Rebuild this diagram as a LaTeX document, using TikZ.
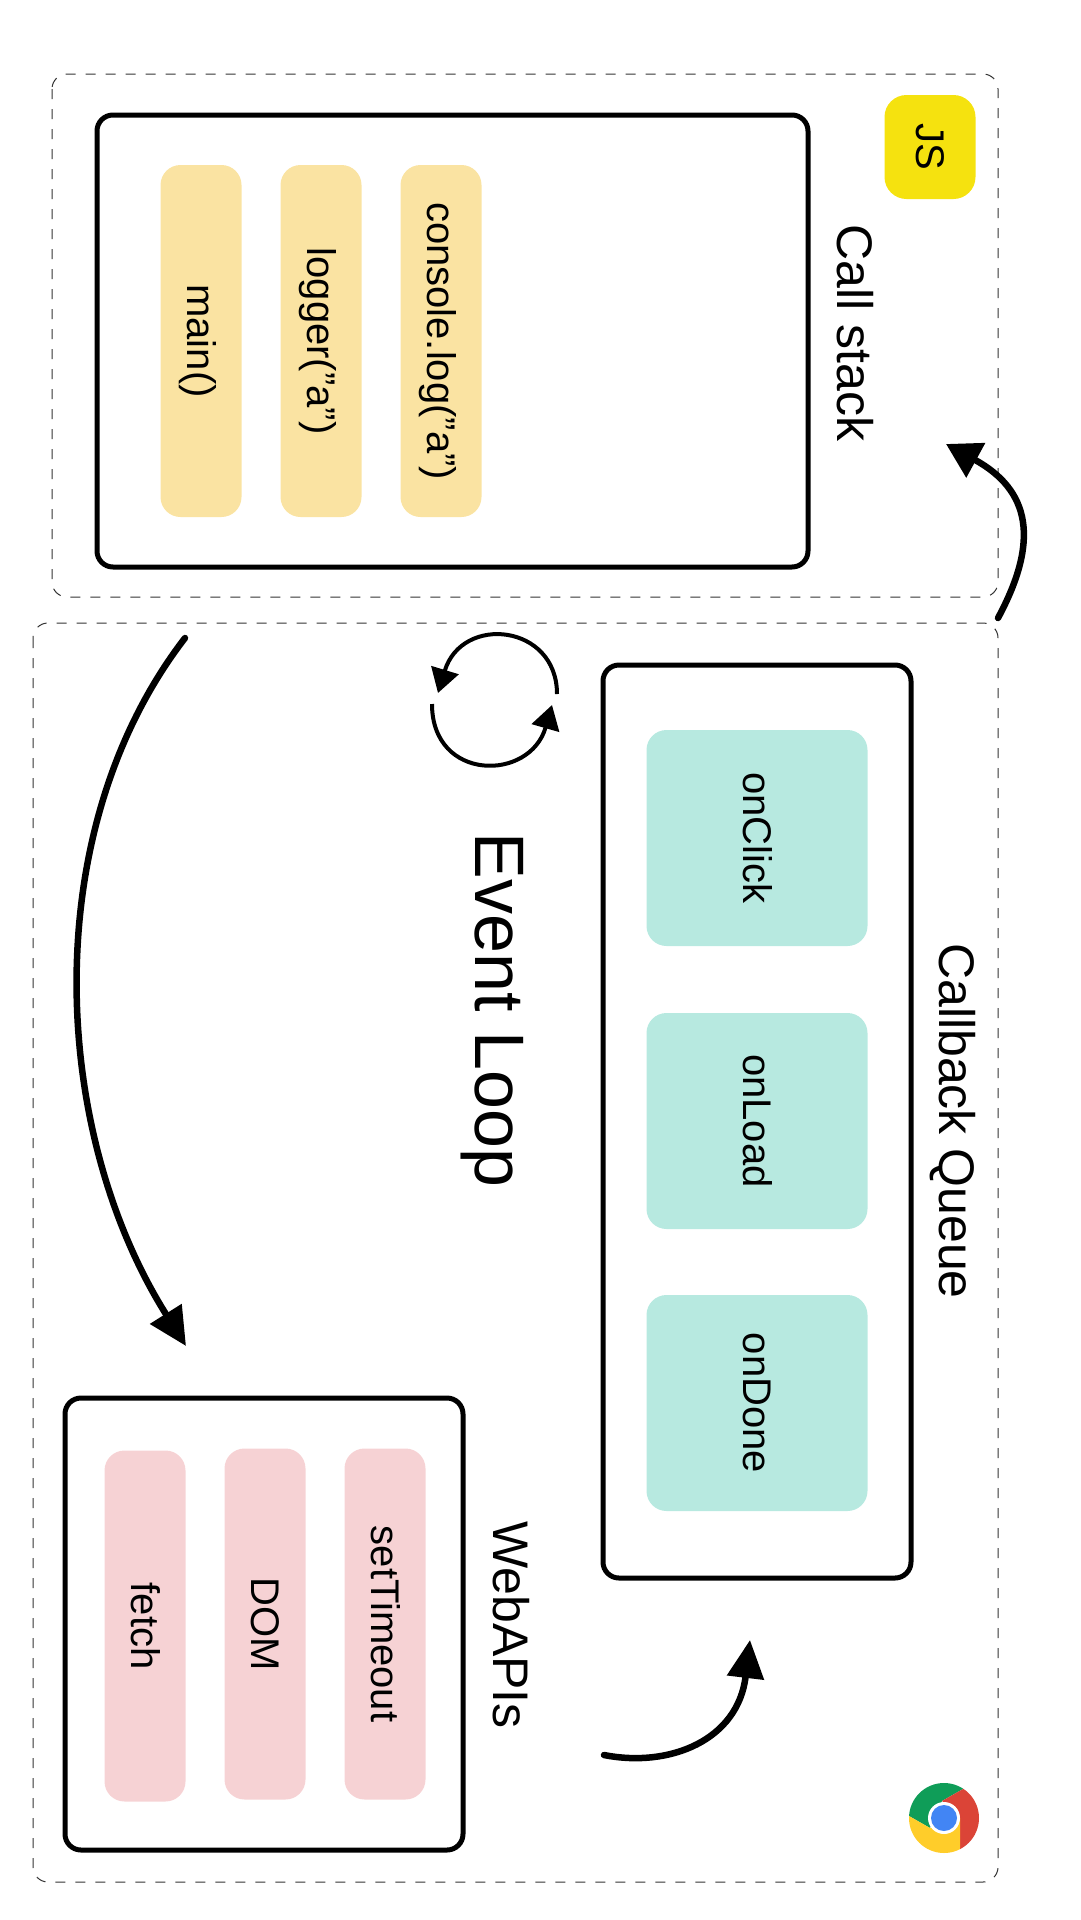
\documentclass[tikz,border=0pt]{standalone}
\usepackage{fontspec}
\setmainfont{Liberation Sans}
\usetikzlibrary{arrows.meta}
\definecolor{stackfill}{HTML}{FAE3A2}
\definecolor{queuefill}{HTML}{B7E9E0}
\definecolor{apifill}{HTML}{F6D2D4}
\definecolor{jsfill}{HTML}{F5E20F}
\definecolor{chromegreen}{HTML}{0F9D58}
\definecolor{chromered}{HTML}{DB4437}
\definecolor{chromeyellow}{HTML}{FFCD2A}
\definecolor{chromeblue}{HTML}{4285F4}
\tikzset{
  zone/.style={draw=black!80,line width=1pt,dash pattern=on 10pt off 10pt,rounded corners=15pt},
  frame/.style={draw=black,line width=5pt,rounded corners=16pt},
  item/.style={rotate=-90,inner sep=0pt,rounded corners=20pt,text height=34pt,text depth=6pt,font=\fontsize{40}{40}\selectfont},
  caption/.style={rotate=-90,inner sep=0pt,font=\fontsize{50}{50}\selectfont},
  flow/.style={line width=6.5pt,line cap=round}
}
\begin{document}
\begin{tikzpicture}[x=1pt,y=-1pt]
  \useasboundingbox (0,0) rectangle (1080,1920);
  % dashed zones
  \draw[zone] (52,74) rectangle (998,597);
  \draw[zone] (33,623) rectangle (998,1882);
  % call stack
  \draw[frame] (97,115) rectangle (808,567);
  \node[item,fill=stackfill,minimum width=352pt,minimum height=81pt] (main) at (201,341) {main()};
  \node[item,fill=stackfill,minimum width=352pt,minimum height=81pt] (logger) at (321,341) {logger(”a”)};
  \node[item,fill=stackfill,minimum width=352pt,minimum height=81pt] (console) at (441,341) {console.log(”a”)};
  \node[item,fill=jsfill,minimum width=104pt,minimum height=91pt,rounded corners=22pt] (js) at (930,147) {JS};
  \node[caption] (stacklabel) at (855,333) {Call stack};
  % callback queue
  \draw[frame] (603,665) rectangle (911,1578);
  \foreach \name/\y/\txt in {click/838/onClick,load/1121/onLoad,done/1403/onDone} {
    \node[item,fill=queuefill,minimum width=216pt,minimum height=221pt] (\name) at (757,\y) {\txt};
  }
  \node[caption] (queuelabel) at (953,1121) {Callback Queue};
  % web apis
  \draw[frame] (65,1398) rectangle (463,1850);
  \node[item,fill=apifill,minimum width=351pt,minimum height=81pt] (fetch) at (145,1626) {fetch};
  \node[item,fill=apifill,minimum width=351pt,minimum height=81pt] (dom) at (265,1624) {DOM};
  \node[item,fill=apifill,minimum width=351pt,minimum height=81pt] (timeout) at (385,1624) {setTimeout};
  \node[caption] (apilabel) at (511,1625) {WebAPIs};
  % event loop
  \node[rotate=-90,inner sep=0pt,font=\fontsize{70}{70}\selectfont] (looplabel) at (492,1010) {Event Loop};
  % free ends of the arrows
  \coordinate (a1) at (998,618);
  \coordinate (a2) at (946,444);
  \coordinate (b1) at (185,638);
  \coordinate (b2) at (186,1346);
  \coordinate (c1) at (604,1755);
  \coordinate (c2) at (750,1640);
  \coordinate (d1) at (557,694);
  \coordinate (d2) at (438,693);
  \coordinate (e1) at (432,704);
  \coordinate (e2) at (552,705);
  % arrows
  \draw[flow,-{Triangle[length=34pt,width=38pt]}] (a1) .. controls (1040,540) and (1030,490) .. (a2);
  \draw[flow,-{Triangle[length=38pt,width=36pt]}] (b1) .. controls (37,830) and (50,1130) .. (b2);
  \draw[flow,-{Triangle[length=38pt,width=36pt]}] (c1) .. controls (670,1768) and (738,1740) .. (c2);
  \draw[line width=4pt,-{Triangle[length=24pt,width=28pt]}] (d1) .. controls (557,624) and (462,614) .. (d2);
  \draw[line width=4pt,-{Triangle[length=24pt,width=28pt]}] (e1) .. controls (432,782) and (530,782) .. (e2);
  % chrome logo
  \begin{scope}
    \clip (944,1818) circle (35pt);
    \fill[chromegreen] (930,1828) -- (909,1816) -- (900,1770) -- (963,1770) -- (963,1789) -- (942,1801) -- cycle;
    \fill[chromered] (942,1801) -- (963,1789) -- (990,1780) -- (990,1860) -- (960,1860) -- (960,1818) -- cycle;
    \fill[chromeyellow] (930,1828) -- (909,1816) -- (900,1870) -- (960,1870) -- (960,1818) -- cycle;
  \end{scope}
  \fill[white] (944,1818) circle (16pt);
  \fill[chromeblue] (944,1818) circle (13pt);
\end{tikzpicture}
\end{document}
